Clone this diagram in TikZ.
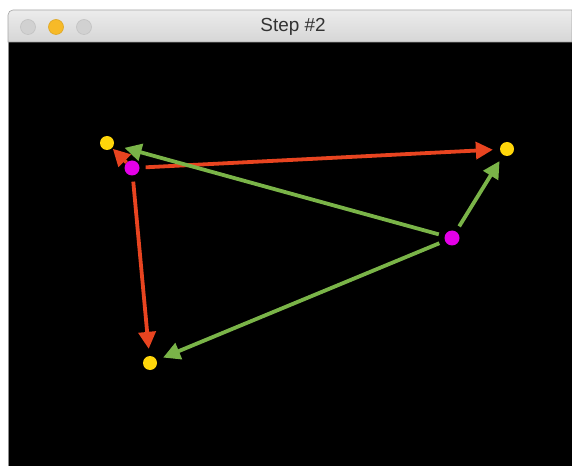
\documentclass[tikz,border=0pt]{standalone}
\usepackage{fontspec}
\setsansfont{Liberation Sans}
\usetikzlibrary{arrows.meta}
\definecolor{winred}{RGB}{232,68,32}
\definecolor{wingreen}{RGB}{122,180,72}
\definecolor{winyellow}{RGB}{255,214,10}
\definecolor{winmagenta}{RGB}{228,0,232}
\definecolor{winorange}{RGB}{247,186,40}
\definecolor{tbtop}{RGB}{236,236,236}
\definecolor{tbbot}{RGB}{214,214,214}
\tikzset{
  x=1bp,y=-1bp,
  ydot/.style={circle,fill=winyellow,inner sep=0pt,minimum size=14bp},
  mdot/.style={circle,fill=winmagenta,inner sep=0pt,minimum size=15bp},
  redarr/.style={-{Triangle[length=17bp,width=17bp]},line width=3.8bp,
    draw=winred,shorten >=7pt,shorten <=6pt},
  grnarr/.style={-{Triangle[length=17bp,width=17bp]},line width=3.8bp,
    draw=wingreen,shorten >=7pt,shorten <=6pt},
  tlight/.style={circle,inner sep=0pt,minimum size=15bp,fill=black!18,
    draw=black!24,line width=0.6bp},
  ttl/.style={font=\sffamily\fontsize{19}{19}\selectfont,text=black!80},
}
\begin{document}
\begin{tikzpicture}
  \useasboundingbox (0,0) rectangle (572,466);
  \fill[white] (0,0) rectangle (572,466);
  % window body
  \fill[black] (8,42) rectangle (572,466);
  \draw[black!45,line width=1bp] (8,466) -- (8,15);
  \shade[top color=tbtop,bottom color=tbbot,draw=black!35,line width=0.6bp]
    (8,42) {[rounded corners=5bp] -- (8,10)} -- (572,10) -- (572,42) -- cycle;
  \node[tlight] (close) at (28,27) {};
  \node[tlight,fill=winorange,draw=winorange!90!black] (mini) at (56,27) {};
  \node[tlight] (zoom) at (84,27) {};
  \node[ttl] (title) at (293,27) {Step \#2};
  % points
  \node[ydot] (y1) at (107,143) {};
  \node[ydot] (y2) at (507,149) {};
  \node[ydot] (y3) at (150,363) {};
  \node[mdot] (m1) at (132,168) {};
  \node[mdot] (m2) at (452,238) {};
  % arrows
  \draw[redarr,shorten <=0pt,shorten >=1pt] (m1) -- (y1);
  \draw[redarr] (m1) -- (y2);
  \draw[redarr] (m1) -- (y3);
  \draw[grnarr,shorten >=11pt] (m2) -- (y1);
  \draw[grnarr] (m2) -- (y2);
  \draw[grnarr] (m2) -- (y3);
\end{tikzpicture}
\end{document}
